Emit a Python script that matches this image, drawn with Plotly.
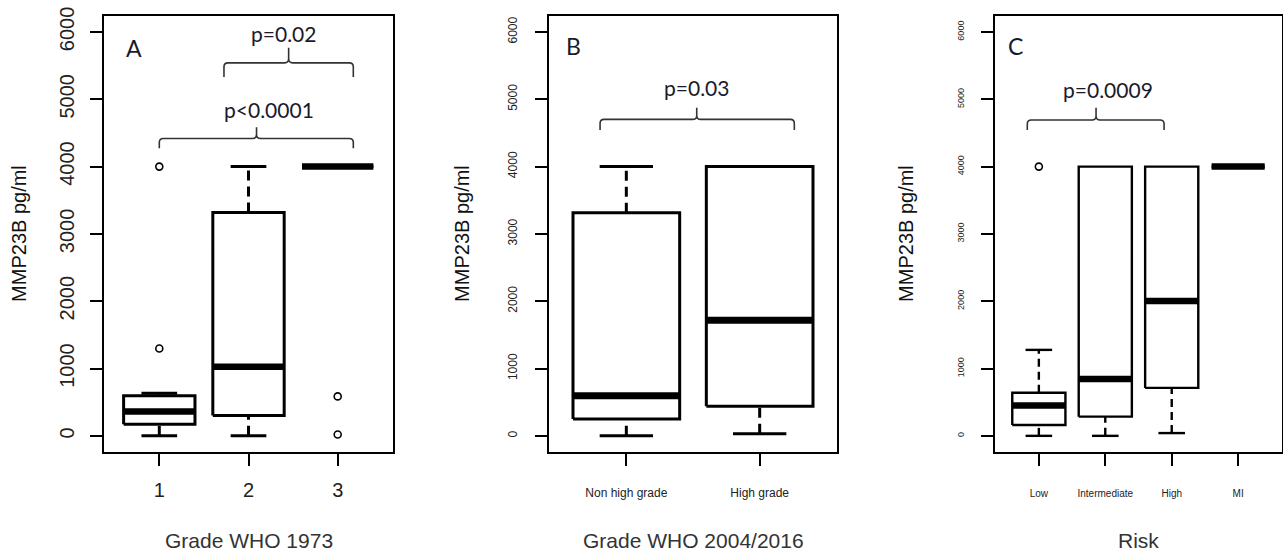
import plotly.graph_objects as go

W, H = 1283, 554

# ---------------- data (box-plot statistics) ----------------
y_ticks = [0, 1000, 2000, 3000, 4000, 5000, 6000]

A_labels = ["1", "2", "3"]
A_q1 = [173, 304, 4000]
A_med = [361, 1026, 4000]
A_q3 = [594, 3317, 4000]
A_lo = [0, 0, 4000]
A_hi = [634, 4000, 4000]
A_out = [[1298, 4000], [], [586, 21]]

B_labels = ["Non high grade", "High grade"]
B_q1 = [251, 440]
B_med = [597, 1717]
B_q3 = [3314, 4000]
B_lo = [0, 31]
B_hi = [4000, 4000]
B_out = [[], []]

C_labels = ["Low", "Intermediate", "High", "MI"]
C_q1 = [162, 285, 712, 4000]
C_med = [449, 843, 2005, 4000]
C_q3 = [640, 4000, 4000, 4000]
C_lo = [0, 0, 41, 4000]
C_hi = [1277, 4000, 4000, 4000]
C_out = [[4000], [], [], []]

A_title, B_title, C_title = "Grade WHO 1973", "Grade WHO 2004/2016", "Risk"
y_title = "MMP23B pg/ml"

# comparisons: (left group pos, right group pos, peak pos, line y, end y, peak y, text, text x, text y)
A_comp = [(1.725, 3.175, 2.45, 5541, 5332, 5767, "p=0.02", 2.39, 5970),
          (1.0, 3.175, 2.09, 4418, 4271, 4586, "p<0.0001", 2.23, 4855)]
B_comp = [(0.803, 2.26, 1.528, 4701, 4544, 4874, "p=0.03", 1.528, 5180)]
C_comp = [(0.826, 2.885, 1.861, 4691, 4544, 4874, "p=0.0009", 2.034, 5150)]

# ---------------- layout / style ----------------
SANS = "Liberation Sans, Arial, sans-serif"
CAL = "Lato, Liberation Sans, sans-serif"
y0px, y1px = 15.8, 452.0
panels = [
    dict(key="", labels=A_labels, q1=A_q1, med=A_med, q3=A_q3, lo=A_lo, hi=A_hi, out=A_out,
         comp=A_comp, title=A_title, letter="A", letterpos=(0.716, 5765),
         px=(104, 393), xr=(0.38, 3.62), ytick=20, xtick=20, lw=3, mw=6.5, dash="10px,6px",
         ytitle_px=19, r=4, ystand=8, xstand=7),
    dict(key="2", labels=B_labels, q1=B_q1, med=B_med, q3=B_q3, lo=B_lo, hi=B_hi, out=B_out,
         comp=B_comp, title=B_title, letter="B", letterpos=(0.60, 5790),
         px=(549, 837), xr=(0.42, 2.58), ytick=12, xtick=12, lw=3, mw=7, dash="10px,6px",
         ytitle_px=462, r=4, ystand=13, xstand=17),
    dict(key="3", labels=C_labels, q1=C_q1, med=C_med, q3=C_q3, lo=C_lo, hi=C_hi, out=C_out,
         comp=C_comp, title=C_title, letter="C", letterpos=(0.656, 5790),
         px=(995, 1282), xr=(0.34, 4.66), ytick=9, xtick=10, lw=2.4, mw=6.5, dash="8px,5px",
         ytitle_px=906, r=4, ystand=13, xstand=19),
]

fig = go.Figure()
shapes, annotations = [], []
yrange = [-240, 6240]
ypx_per_unit = (436 - 32) / 6000.0

for p in panels:
    k = p["key"]
    xa, ya = "x" + k, "y" + k
    n = len(p["labels"])
    pos = list(range(1, n + 1))
    bx, by, mx, my, wx, wy, cx, cy, ox, oy = [], [], [], [], [], [], [], [], [], []
    for i, x in enumerate(pos):
        q1, md, q3, lo, hi = p["q1"][i], p["med"][i], p["q3"][i], p["lo"][i], p["hi"][i]
        bx += [x - 0.4, x + 0.4, x + 0.4, x - 0.4, x - 0.4, None]
        by += [q1, q1, q3, q3, q1, None]
        mx += [x - 0.4, x + 0.4, None]
        my += [md, md, None]
        if hi > q3:
            wx += [x, x, None]; wy += [q3, hi, None]
            cx += [x - 0.2, x + 0.2, None]; cy += [hi, hi, None]
        if lo < q1:
            wx += [x, x, None]; wy += [lo, q1, None]
            cx += [x - 0.2, x + 0.2, None]; cy += [lo, lo, None]
        for v in p["out"][i]:
            ox.append(x); oy.append(v)
    common = dict(xaxis=xa, yaxis=ya, showlegend=False, hoverinfo="skip")
    fig.add_trace(go.Scatter(x=wx, y=wy, mode="lines",
                             line=dict(color="black", width=p["lw"], dash=p["dash"]), **common))
    fig.add_trace(go.Scatter(x=cx, y=cy, mode="lines",
                             line=dict(color="black", width=p["lw"]), **common))
    fig.add_trace(go.Scatter(x=bx, y=by, mode="lines",
                             line=dict(color="black", width=p["lw"]), **common))
    fig.add_trace(go.Scatter(x=mx, y=my, mode="lines",
                             line=dict(color="black", width=p["mw"]), **common))
    if ox:
        fig.add_trace(go.Scatter(x=ox, y=oy, mode="markers",
                                 marker=dict(symbol="circle-open", size=7, color="black",
                                             line=dict(width=1.6, color="black")), **common))

    # axes
    dom = [p["px"][0] / W, p["px"][1] / W]
    axcommon = dict(showline=True, linewidth=2, linecolor="black", mirror=True,
                    ticks="outside", ticklen=12, tickwidth=2, tickcolor="black",
                    showgrid=False, zeroline=False, automargin=False)
    fig.update_layout(**{
        "xaxis" + k: dict(domain=dom, range=list(p["xr"]), tickvals=pos, ticktext=p["labels"],
                          tickfont=dict(family=SANS, size=p["xtick"], color="#222"),
                          ticklabelstandoff=p["xstand"], anchor=ya, **axcommon),
        "yaxis" + k: dict(domain=[1 - y1px / H, 1 - y0px / H], range=yrange, tickvals=y_ticks,
                          ticktext=[str(v) for v in y_ticks], tickangle=-90,
                          tickfont=dict(family=SANS, size=p["ytick"], color="#222"),
                          ticklabelstandoff=p["ystand"], anchor=xa, **axcommon),
    })

    # brackets
    xpx_per_unit = (p["px"][1] - p["px"][0]) / (p["xr"][1] - p["xr"][0])
    dx = p["r"] / xpx_per_unit
    dy = p["r"] / ypx_per_unit
    for (xl, xr, xp, yl, ye, yp, txt, xt, yt) in p["comp"]:
        path = (f"M {xl},{ye} L {xl},{yl - dy} Q {xl},{yl} {xl + dx},{yl} "
                f"L {xp - dx},{yl} Q {xp},{yl} {xp},{yl + dy} L {xp},{yp} "
                f"L {xp},{yl + dy} Q {xp},{yl} {xp + dx},{yl} "
                f"L {xr - dx},{yl} Q {xr},{yl} {xr},{yl - dy} L {xr},{ye}")
        shapes.append(dict(type="path", path=path, xref=xa, yref=ya,
                           line=dict(color="#333", width=1.6)))
        annotations.append(dict(x=xt, y=yt, xref=xa, yref=ya, text=txt, showarrow=False,
                                xanchor="center", yanchor="middle",
                                font=dict(family=CAL, size=21, color="#1a1a2a")))
    # panel letter
    annotations.append(dict(x=p["letterpos"][0], y=p["letterpos"][1], xref=xa, yref=ya,
                            text=p["letter"], showarrow=False, xanchor="center", yanchor="middle",
                            font=dict(family=CAL, size=23, color="#1a1a2a")))
    # axis titles
    annotations.append(dict(x=(p["px"][0] + p["px"][1]) / 2 / W, y=1 - 540 / H, xref="paper",
                            yref="paper", text=p["title"], showarrow=False, xanchor="center",
                            yanchor="middle", font=dict(family=SANS, size=21, color="#333")))
    annotations.append(dict(x=p["ytitle_px"] / W, y=1 - (y0px + y1px) / 2 / H, xref="paper",
                            yref="paper", text=y_title, showarrow=False, textangle=-90,
                            xanchor="center", yanchor="middle",
                            font=dict(family=SANS, size=20, color="#111")))

fig.update_layout(width=W, height=H, margin=dict(l=0, r=0, t=0, b=0, autoexpand=False),
                  paper_bgcolor="white", plot_bgcolor="white",
                  shapes=shapes, annotations=annotations)

fig.write_html("out.html")
